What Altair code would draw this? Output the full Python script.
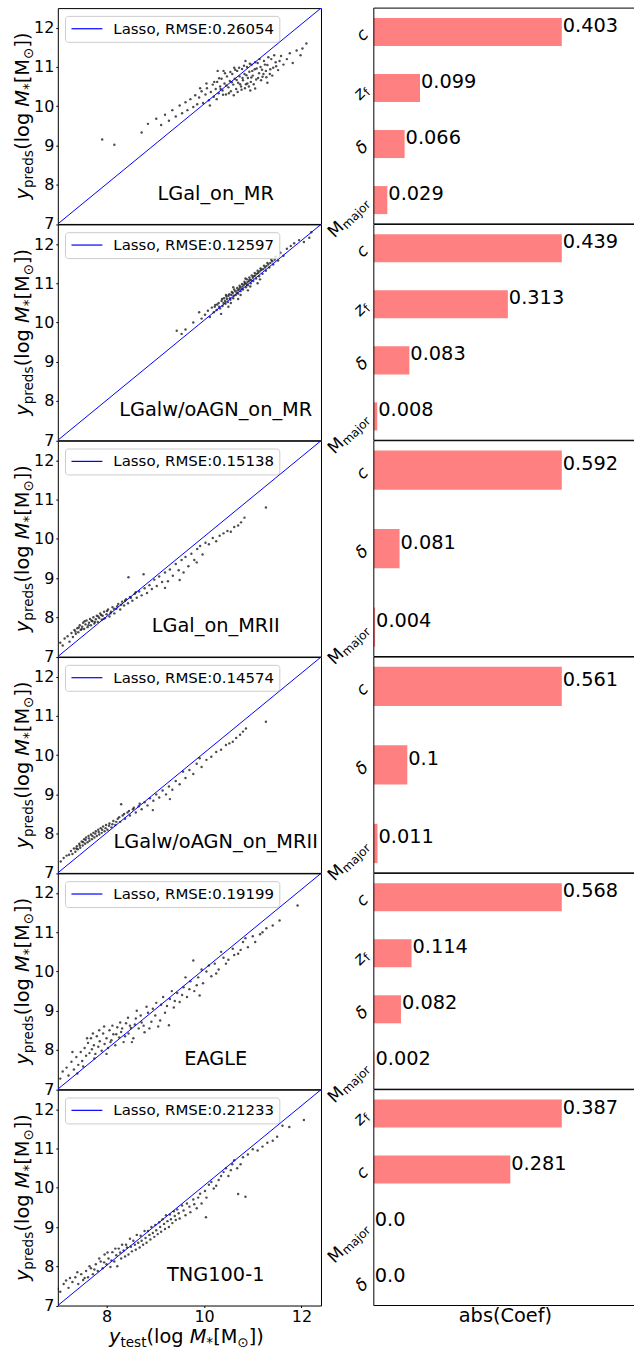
import altair as alt
import pandas as pd

FONT = "DejaVu Sans"

# Plot-area sizes (px)
W_L, W_R, H = 264, 261, 216.5

# ---------------------------------------------------------------- data
NAMES = ["LGal_on_MR", "LGalw/oAGN_on_MR", "LGal_on_MRII",
         "LGalw/oAGN_on_MRII", "EAGLE", "TNG100-1"]
RMSE = ["0.26054", "0.12597", "0.15138", "0.14574", "0.19199", "0.21233"]

X_DOMAIN = [7, 12.4]
Y_DOMAIN = [7, 12.5]
# one-to-one reference line, corner to corner of each panel
DIAG_X = [7, 12.4]
DIAG_Y = [7, 12.5]

# (y_test, y_preds) pairs for each simulation
PTS_LGAL_MR = [
    (7.91, 9.15), (8.16, 9.02), (8.72, 9.33), (8.85, 9.55), (9.02, 9.68), (9.12, 9.52),
    (9.2, 9.78), (9.28, 9.63), (9.35, 9.9), (9.42, 9.74), (9.5, 10.02), (9.55, 9.82),
    (9.62, 10.1), (9.66, 9.9), (9.72, 10.18), (9.78, 9.98), (9.82, 10.28), (9.86, 10.05),
    (9.9, 10.22), (9.95, 10.38), (9.98, 10.08), (10.03, 10.3), (10.06, 10.46), (10.1, 10.15),
    (10.14, 10.36), (10.18, 10.55), (10.2, 10.24), (10.24, 10.44), (10.27, 10.62), (10.3, 10.33),
    (10.33, 10.5), (10.36, 10.7), (10.38, 10.4), (10.42, 10.58), (10.45, 10.3), (10.47, 10.76),
    (10.5, 10.48), (10.53, 10.64), (10.55, 10.38), (10.58, 10.82), (10.6, 10.55), (10.63, 10.7),
    (10.66, 10.44), (10.68, 10.9), (10.7, 10.6), (10.73, 10.76), (10.76, 10.5), (10.78, 10.95),
    (10.8, 10.66), (10.83, 10.82), (10.86, 10.56), (10.88, 11.0), (10.9, 10.72), (10.93, 10.88),
    (10.96, 10.62), (10.98, 11.06), (11.0, 10.78), (11.04, 10.94), (11.07, 10.68), (11.1, 11.1),
    (11.13, 10.84), (11.16, 11.0), (11.2, 10.75), (11.23, 11.15), (11.27, 10.9), (11.3, 11.05),
    (11.35, 10.82), (11.38, 11.2), (11.42, 10.98), (11.47, 11.12), (11.52, 10.92), (11.58, 11.28),
    (11.63, 11.06), (11.7, 11.2), (11.76, 11.35), (11.82, 11.1), (11.9, 11.42), (11.98, 11.3),
    (12.1, 11.6), (12.02, 11.47), (10.4, 10.9), (10.62, 10.98), (11.3, 10.6), (10.95, 10.4),
    (10.21, 10.62), (10.26, 10.18), (10.31, 10.71), (10.34, 10.44), (10.39, 10.29), (10.43, 10.84),
    (10.46, 10.53), (10.51, 10.33), (10.54, 10.87), (10.57, 10.61), (10.61, 10.28), (10.64, 10.93),
    (10.67, 10.67), (10.69, 10.36), (10.72, 10.98), (10.74, 10.56), (10.77, 10.42), (10.79, 10.72),
    (10.82, 11.03), (10.84, 10.46), (10.87, 10.79), (10.89, 10.58), (10.92, 10.5), (10.94, 11.08),
    (10.97, 10.73), (10.99, 10.9), (11.02, 10.56), (11.05, 11.12), (11.08, 10.96), (11.11, 10.72),
    (11.14, 11.2), (11.17, 10.66), (11.19, 10.93), (11.22, 10.82), (11.25, 11.06), (11.28, 10.74),
    (11.32, 11.25), (11.36, 10.94), (11.4, 10.78), (11.44, 11.3), (11.48, 11.02), (11.55, 11.15),
    (10.05, 10.58), (9.92, 10.46), (10.12, 10.02), (10.28, 10.9), (10.85, 11.15), (11.05, 10.45),
]
PTS_LGALWO_MR = [
    (9.44, 9.79), (9.54, 9.71), (9.62, 9.82), (9.78, 10.0), (9.9, 10.26), (9.95, 10.1),
    (10.02, 10.2), (10.08, 10.3), (10.12, 10.14), (10.16, 10.38), (10.2, 10.26), (10.23, 10.45),
    (10.26, 10.32), (10.3, 10.5), (10.33, 10.36), (10.36, 10.55), (10.38, 10.42), (10.41, 10.62),
    (10.44, 10.48), (10.46, 10.66), (10.49, 10.52), (10.52, 10.72), (10.54, 10.58), (10.57, 10.78),
    (10.6, 10.62), (10.62, 10.84), (10.65, 10.7), (10.68, 10.88), (10.7, 10.74), (10.73, 10.94),
    (10.75, 10.8), (10.78, 10.98), (10.8, 10.84), (10.83, 11.04), (10.86, 10.9), (10.88, 11.1),
    (10.9, 10.95), (10.93, 11.15), (10.96, 11.0), (10.98, 11.2), (11.01, 11.06), (11.04, 11.26),
    (11.07, 11.12), (11.1, 11.32), (11.13, 11.18), (11.16, 11.38), (11.2, 11.24), (11.23, 11.45),
    (11.27, 11.32), (11.3, 11.52), (11.34, 11.4), (11.38, 11.6), (11.42, 11.48), (11.47, 11.68),
    (11.52, 11.58), (11.57, 11.78), (11.63, 11.7), (11.7, 11.88), (11.78, 11.95), (11.85, 12.02),
    (11.95, 12.1), (12.05, 12.05), (12.16, 12.16), (12.2, 12.3), (10.5, 10.4), (10.7, 10.6),
    (10.9, 10.82), (11.1, 11.0), (10.35, 10.22), (10.6, 10.9),
    (10.22, 10.4), (10.27, 10.46), (10.31, 10.4), (10.37, 10.6), (10.4, 10.5), (10.43, 10.55),
    (10.47, 10.6), (10.5, 10.68), (10.53, 10.62), (10.56, 10.7), (10.59, 10.75), (10.61, 10.68),
    (10.64, 10.8), (10.67, 10.76), (10.69, 10.82), (10.72, 10.85), (10.74, 10.9), (10.77, 10.86),
    (10.79, 10.92), (10.82, 10.96), (10.84, 11.0), (10.87, 10.98), (10.89, 11.03), (10.92, 11.06),
    (10.94, 11.1), (10.97, 11.08), (11.0, 11.14), (11.02, 11.18), (11.05, 11.2), (11.08, 11.24),
    (11.11, 11.26), (11.14, 11.3), (11.17, 11.34), (11.21, 11.36), (11.25, 11.4), (11.28, 11.44),
    (11.32, 11.48), (11.36, 11.52), (11.4, 11.56), (11.45, 11.6), (10.55, 10.5), (10.75, 10.7),
    (10.95, 10.92), (11.15, 11.1), (10.45, 10.7), (10.85, 11.12),
]
PTS_LGAL_MRII = [
    (7.05, 7.35), (7.1, 7.28), (7.14, 7.46), (7.2, 7.52), (7.24, 7.38), (7.28, 7.6),
    (7.31, 7.5), (7.34, 7.68), (7.37, 7.58), (7.4, 7.72), (7.42, 7.62), (7.45, 7.8),
    (7.47, 7.68), (7.5, 7.76), (7.52, 7.86), (7.54, 7.7), (7.57, 7.82), (7.59, 7.92),
    (7.61, 7.75), (7.64, 7.86), (7.66, 7.96), (7.68, 7.8), (7.71, 7.9), (7.73, 8.0),
    (7.75, 7.84), (7.78, 7.95), (7.8, 8.04), (7.82, 7.88), (7.85, 7.98), (7.87, 8.1),
    (7.9, 7.94), (7.92, 8.04), (7.95, 8.14), (7.97, 7.98), (8.0, 8.08), (8.03, 8.2),
    (8.06, 8.02), (8.09, 8.14), (8.12, 8.26), (8.16, 8.1), (8.2, 8.22), (8.24, 8.34),
    (8.28, 8.2), (8.32, 8.4), (8.36, 8.3), (8.4, 8.46), (8.44, 8.36), (8.45, 9.02),
    (8.48, 8.52), (8.53, 8.42), (8.58, 8.6), (8.62, 8.5), (8.67, 8.66), (8.72, 8.56),
    (8.76, 9.1), (8.78, 8.74), (8.83, 8.62), (8.88, 8.82), (8.93, 8.72), (8.98, 8.96),
    (9.03, 8.8), (9.08, 9.04), (9.14, 8.9), (9.2, 9.14), (9.26, 8.92), (9.3, 9.22),
    (9.36, 9.06), (9.42, 9.36), (9.48, 9.2), (9.54, 9.46), (9.58, 9.14), (9.62, 9.54),
    (9.68, 9.3), (9.74, 9.62), (9.8, 9.46), (9.86, 9.74), (9.92, 9.82), (9.97, 9.6),
    (10.03, 9.9), (10.1, 9.86), (10.18, 10.02), (10.25, 9.94), (10.32, 10.08), (10.4, 10.14),
    (10.48, 10.2), (10.55, 10.18), (10.62, 10.3), (10.7, 10.34), (10.76, 10.42), (10.83, 10.54),
    (11.27, 10.8), (9.85, 9.4), (9.2, 8.75), (9.5, 8.95),
    (7.36, 7.64), (7.43, 7.74), (7.49, 7.7), (7.55, 7.9), (7.63, 7.8), (7.69, 7.92),
    (7.76, 7.88), (7.83, 8.02), (7.89, 8.06), (7.94, 7.96), (8.01, 8.16), (8.08, 8.1),
    (8.15, 8.22), (8.22, 8.28), (8.3, 8.32), (8.38, 8.42), (8.5, 8.5), (8.6, 8.64),
]
PTS_LGALWO_MRII = [
    (7.06, 7.29), (7.12, 7.38), (7.18, 7.44), (7.23, 7.46), (7.27, 7.56), (7.3, 7.48),
    (7.33, 7.62), (7.36, 7.54), (7.39, 7.68), (7.41, 7.6), (7.44, 7.74), (7.46, 7.64),
    (7.49, 7.8), (7.51, 7.7), (7.54, 7.86), (7.56, 7.74), (7.58, 7.9), (7.61, 7.78),
    (7.63, 7.94), (7.65, 7.82), (7.68, 7.98), (7.7, 7.86), (7.73, 8.02), (7.75, 7.9),
    (7.78, 8.06), (7.8, 7.94), (7.83, 8.1), (7.85, 7.98), (7.88, 8.14), (7.9, 8.02),
    (7.93, 8.18), (7.96, 8.06), (7.99, 8.22), (8.02, 8.1), (8.06, 8.26), (8.1, 8.16),
    (8.14, 8.32), (8.18, 8.22), (8.23, 8.38), (8.28, 8.3), (8.3, 8.75), (8.33, 8.46),
    (8.38, 8.38), (8.43, 8.54), (8.48, 8.46), (8.54, 8.62), (8.6, 8.54), (8.66, 8.7),
    (8.72, 8.62), (8.78, 8.8), (8.84, 8.72), (8.89, 8.9), (8.95, 8.6), (8.96, 8.84),
    (9.02, 9.0), (9.08, 8.92), (9.15, 9.1), (9.22, 9.0), (9.28, 9.2), (9.3, 8.88),
    (9.35, 9.12), (9.42, 9.34), (9.5, 9.26), (9.57, 9.58), (9.62, 9.42), (9.7, 9.62),
    (9.78, 9.52), (9.85, 9.78), (9.91, 9.92), (9.95, 9.7), (10.05, 9.88), (10.15, 9.96),
    (10.25, 10.08), (10.35, 10.14), (10.45, 10.26), (10.52, 10.3), (10.59, 10.34), (10.66, 10.44),
    (10.74, 10.52), (10.8, 10.6), (10.86, 10.68), (11.27, 10.85),
    (7.38, 7.62), (7.45, 7.7), (7.52, 7.78), (7.57, 7.84), (7.64, 7.88), (7.71, 7.94),
    (7.77, 8.0), (7.84, 8.04), (7.91, 8.1), (7.98, 8.14), (8.05, 8.2), (8.12, 8.24),
    (8.2, 8.3), (8.26, 8.42), (8.36, 8.5), (8.46, 8.58), (8.56, 8.66), (8.68, 8.76),
]
PTS_EAGLE = [
    (7.05, 7.27), (7.1, 7.45), (7.18, 7.55), (7.22, 7.35), (7.28, 7.7), (7.33, 7.5),
    (7.38, 7.82), (7.42, 7.62), (7.47, 7.95), (7.5, 7.72), (7.55, 8.05), (7.58, 7.85),
    (7.62, 8.18), (7.65, 7.92), (7.68, 8.3), (7.7, 8.02), (7.74, 8.12), (7.77, 7.9),
    (7.8, 8.35), (7.83, 8.08), (7.86, 8.22), (7.9, 7.98), (7.93, 8.42), (7.96, 8.15),
    (8.0, 8.3), (8.03, 8.05), (8.06, 8.5), (8.1, 8.25), (8.14, 8.4), (8.18, 8.12),
    (8.22, 8.58), (8.26, 8.32), (8.3, 8.46), (8.35, 8.2), (8.4, 8.68), (8.45, 8.42),
    (8.5, 8.56), (8.55, 8.3), (8.6, 8.8), (8.66, 8.55), (8.72, 8.7), (8.78, 8.45),
    (8.85, 8.95), (8.92, 8.72), (9.0, 8.88), (9.06, 8.6), (9.12, 9.15), (9.2, 8.95),
    (9.28, 8.63), (9.3, 9.3), (9.38, 9.08), (9.45, 9.45), (9.5, 9.22), (9.58, 9.6),
    (9.65, 9.35), (9.72, 9.75), (9.78, 10.28), (9.8, 9.5), (9.88, 9.85), (9.91, 9.39),
    (9.98, 9.7), (10.05, 10.0), (10.15, 9.88), (10.22, 10.2), (10.3, 10.05), (10.4, 10.35),
    (10.5, 10.3), (10.59, 10.58), (10.7, 10.45), (10.8, 10.75), (10.9, 10.62), (11.0, 10.9),
    (11.15, 10.95), (11.28, 11.1), (11.41, 11.17), (11.55, 11.3), (11.92, 11.68),
    (7.6, 8.3), (7.72, 8.42), (7.85, 8.5), (7.95, 8.6), (8.08, 8.2), (8.12, 8.62),
    (8.2, 8.4), (8.28, 8.7), (8.32, 8.55), (8.38, 8.35), (8.44, 8.82), (8.48, 8.62),
    (8.52, 8.2), (8.58, 8.65), (8.62, 9.0), (8.7, 8.88), (8.76, 8.62), (8.82, 9.1),
    (8.88, 8.55), (8.95, 9.05), (9.02, 9.2), (9.1, 8.75), (9.16, 9.35), (9.24, 9.12),
    (9.34, 9.5), (9.4, 9.25), (9.55, 9.4), (9.62, 9.85), (9.7, 9.55), (9.85, 9.65),
    (9.95, 10.05), (10.1, 10.15), (10.25, 9.95), (10.35, 10.5), (10.45, 10.2), (10.62, 10.42),
    (10.75, 10.55), (10.85, 10.85), (11.05, 10.75), (11.2, 11.0), (7.4, 7.4), (7.52, 7.58),
    (7.75, 7.78), (8.0, 7.9), (7.3, 7.95),
]
PTS_TNG = [
    (7.0, 7.43), (7.05, 7.35), (7.12, 7.55), (7.17, 7.64), (7.22, 7.45), (7.3, 7.6),
    (7.36, 7.72), (7.42, 7.55), (7.48, 7.8), (7.52, 7.65), (7.58, 7.88), (7.62, 7.72),
    (7.68, 7.95), (7.72, 7.8), (7.78, 8.05), (7.82, 7.88), (7.88, 8.12), (7.92, 7.95),
    (7.96, 8.3), (8.0, 8.05), (8.04, 8.2), (8.08, 7.98), (8.12, 8.36), (8.16, 8.12),
    (8.2, 8.28), (8.25, 8.45), (8.3, 8.2), (8.35, 8.4), (8.4, 8.55), (8.45, 8.3),
    (8.5, 8.5), (8.55, 8.65), (8.6, 8.42), (8.65, 8.6), (8.7, 8.78), (8.75, 8.55),
    (8.8, 8.72), (8.85, 8.9), (8.9, 8.68), (8.95, 8.85), (9.0, 9.05), (9.05, 8.82),
    (9.1, 9.0), (9.15, 9.2), (9.2, 8.95), (9.25, 9.15), (9.3, 9.32), (9.35, 9.1),
    (9.4, 9.28), (9.45, 9.45), (9.5, 9.22), (9.58, 9.42), (9.65, 9.6), (9.72, 9.38),
    (9.8, 9.58), (9.88, 9.75), (9.95, 9.6), (10.04, 9.25), (10.02, 9.92), (10.1, 10.08),
    (10.2, 9.98), (10.3, 10.2), (10.4, 10.4), (10.5, 10.3), (10.58, 10.6), (10.7, 9.84),
    (10.68, 10.5), (10.85, 9.77), (10.8, 10.78), (11.0, 10.98), (11.2, 11.05), (11.41, 11.2),
    (11.61, 11.58), (12.05, 11.73),
    (7.25, 7.7), (7.4, 7.85), (7.55, 7.7), (7.65, 8.0), (7.75, 7.92), (7.85, 8.2),
    (7.95, 8.1), (8.02, 8.35), (8.1, 8.15), (8.18, 8.45), (8.22, 8.0), (8.28, 8.35),
    (8.32, 8.55), (8.38, 8.25), (8.42, 8.48), (8.48, 8.7), (8.52, 8.38), (8.58, 8.55),
    (8.62, 8.8), (8.68, 8.48), (8.72, 8.65), (8.78, 8.9), (8.82, 8.6), (8.88, 8.8),
    (8.92, 9.0), (8.98, 8.75), (9.02, 8.92), (9.08, 9.12), (9.12, 8.88), (9.18, 9.08),
    (9.22, 9.3), (9.28, 9.0), (9.32, 9.2), (9.38, 9.4), (9.42, 9.18), (9.48, 9.35),
    (9.55, 9.55), (9.62, 9.3), (9.7, 9.52), (9.78, 9.7), (9.85, 9.48), (9.92, 9.85),
    (10.05, 9.75), (10.15, 10.15), (10.25, 10.05), (10.35, 10.3), (10.45, 10.5), (10.55, 10.45),
    (10.62, 10.7), (10.75, 10.6), (10.9, 10.85), (11.1, 10.95), (11.3, 11.15), (11.5, 11.3),
    (11.75, 11.55),
]
POINTS = [PTS_LGAL_MR, PTS_LGALWO_MR, PTS_LGAL_MRII,
          PTS_LGALWO_MRII, PTS_EAGLE, PTS_TNG]

# Lasso |coefficients|, listed top to bottom
FEATURES = [
    ["c", "zf", "delta", "Mmajor"],
    ["c", "zf", "delta", "Mmajor"],
    ["c", "delta", "Mmajor"],
    ["c", "delta", "Mmajor"],
    ["c", "zf", "delta", "Mmajor"],
    ["zf", "c", "Mmajor", "delta"],
]
COEFS = [
    [0.403, 0.099, 0.066, 0.029],
    [0.439, 0.313, 0.083, 0.008],
    [0.592, 0.081, 0.004],
    [0.561, 0.1, 0.011],
    [0.568, 0.114, 0.082, 0.002],
    [0.387, 0.281, 0.0, 0.0],
]
# tick label: (main glyph, style, subscript)
FEATURE_LABELS = {
    "c": ("c", "italic", ""),
    "zf": ("z", "italic", "f"),
    "delta": ("δ", "italic", ""),
    "Mmajor": ("M", "normal", "major"),
}

# ---------------------------------------------------------------- text helpers
CHAR_W = {  # DejaVu Sans advance widths (em)
    " ": 0.318, "(": 0.390, ")": 0.390, "[": 0.390, "]": 0.390, "*": 0.500,
    "a": 0.613, "b": 0.635, "c": 0.550, "d": 0.635, "e": 0.615, "f": 0.352,
    "g": 0.635, "j": 0.278, "l": 0.278, "m": 0.974, "o": 0.612, "p": 0.635,
    "r": 0.411, "s": 0.521, "t": 0.392, "y": 0.592, "z": 0.525, "M": 0.863,
    "⊙": 0.838, "δ": 0.612,
}
ONE = pd.DataFrame({"k": [0]})
BIG, SUB, TICK, LEG = 19.4, 13.6, 16, 15
LBL, LBL_SUB = 17, 12


def text_width(s, size):
    return sum(CHAR_W.get(ch, 0.6) for ch in s) * size


def math_text(pieces, x0, y0, angle):
    """Centred run of text pieces (text, size, style, baseline shift)."""
    widths = [text_width(t, sz) for t, sz, _, _ in pieces]
    pos = -sum(widths) / 2
    out = []
    for (t, sz, style, shift), w in zip(pieces, widths):
        out.append(
            alt.Chart(ONE).mark_text(
                text=t, font=FONT, fontSize=sz, fontStyle=style, color="black",
                align="left", baseline="alphabetic", angle=angle, dx=pos, dy=shift,
            ).encode(x=alt.value(x0), y=alt.value(y0))
        )
        pos += w
    return out


def mass_label(sub):
    return [("y", BIG, "italic", 0), (sub, SUB, "normal", 4.5),
            ("(log ", BIG, "normal", 0), ("M", BIG, "italic", 0),
            ("*", SUB, "normal", 4.5), ("[M", BIG, "normal", 0),
            ("⊙", SUB, "normal", 4.5), ("])", BIG, "normal", 0)]


# ---------------------------------------------------------------- panels
def scatter_panel(i, last):
    df = pd.DataFrame(POINTS[i], columns=["x", "y"])
    xaxis = (alt.Axis(values=[8, 10, 12], title=None, tickSize=2, labelFontSize=TICK,
                      labelPadding=1, labelFlush=False, format="d")
             if last else None)
    yaxis = alt.Axis(values=[7, 8, 9, 10, 11, 12], title=None, tickSize=2,
                     labelFontSize=TICK, labelPadding=2, labelFlush=False,
                     labelOverlap=False, format="d")
    xs = alt.Scale(domain=X_DOMAIN, nice=False, zero=False)
    ys = alt.Scale(domain=Y_DOMAIN, nice=False, zero=False)

    pts = alt.Chart(df).mark_circle(size=6, color="black", opacity=0.7, clip=True).encode(
        x=alt.X("x:Q", scale=xs, axis=xaxis), y=alt.Y("y:Q", scale=ys, axis=yaxis))
    diag = alt.Chart(pd.DataFrame({"x": DIAG_X, "y": DIAG_Y})).mark_line(
        color="blue", strokeWidth=1, clip=True).encode(x="x:Q", y="y:Q")
    box = alt.Chart(ONE).mark_rect(
        cornerRadius=3, fill="white", fillOpacity=0.8, stroke="#cccccc", strokeWidth=1
    ).encode(x=alt.value(7.7), x2=alt.value(222.7), y=alt.value(8.3), y2=alt.value(34.3))
    key = alt.Chart(ONE).mark_rule(color="blue", strokeWidth=1.2).encode(
        x=alt.value(13.7), x2=alt.value(44.7), y=alt.value(20.7))
    key_txt = alt.Chart(ONE).mark_text(
        text=f"Lasso, RMSE:{RMSE[i]}", font=FONT, fontSize=LEG, color="black",
        align="left", baseline="alphabetic").encode(x=alt.value(55.7), y=alt.value(25.8))
    name = alt.Chart(ONE).mark_text(
        text=NAMES[i], font=FONT, fontSize=BIG, color="black",
        align="center", baseline="alphabetic").encode(x=alt.value(0.6 * W_L), y=alt.value(192))

    layers = [pts, diag, box, key, key_txt, name]
    layers += math_text(mass_label("preds"), -29.3, H / 2, 270)
    if last:
        layers += math_text(mass_label("test"), 129, 254, 0)
    return alt.layer(*layers).properties(width=W_L, height=H)


def bar_panel(i, last):
    feats, vals = FEATURES[i], COEFS[i]
    df = pd.DataFrame({"feat": feats, "val": vals, "label": [str(v) for v in vals]})
    n = len(feats)
    yscale = alt.Scale(domain=feats, paddingInner=0.5, paddingOuter=0.05 * (n - 0.5))
    xscale = alt.Scale(domain=[0, max(vals) * 1.4 * W_R / W_L], nice=False, zero=True)
    yenc = alt.Y("feat:N", scale=yscale, sort=None,
                 axis=alt.Axis(labels=False, title=None, domain=False, tickSize=2,
                               tickColor="black"))

    bars = alt.Chart(df).mark_bar(color="#ff8080").encode(
        x=alt.X("val:Q", scale=xscale, axis=None), y=yenc)
    nums = alt.Chart(df).mark_text(
        font=FONT, fontSize=BIG, color="black", align="left", baseline="alphabetic", dx=1
    ).encode(x=alt.X("val:Q", scale=xscale, axis=None), y=yenc, text="label:N")

    layers = [bars, nums]
    # rotated tick labels with subscripts
    for f in feats:
        main, style, sub = FEATURE_LABELS[f]
        fd = pd.DataFrame({"feat": [f]})
        ypos = alt.Y("feat:N", scale=yscale, sort=None, axis=None)
        sw = text_width(sub, LBL_SUB)
        layers.append(alt.Chart(fd).mark_text(
            text=main, font=FONT, fontSize=LBL, fontStyle=style, color="black",
            align="right", baseline="middle", angle=315, dx=-sw
        ).encode(x=alt.value(-8), y=ypos))
        if sub:
            layers.append(alt.Chart(fd).mark_text(
                text=sub, font=FONT, fontSize=LBL_SUB, color="black",
                align="right", baseline="middle", angle=315, dy=3.5
            ).encode(x=alt.value(-8), y=ypos))

    # frame: top, bottom and left spines
    layers.append(alt.Chart(ONE).mark_rule(color="black", strokeWidth=1).encode(
        x=alt.value(0), x2=alt.value(W_R), y=alt.value(0)))
    layers.append(alt.Chart(ONE).mark_rule(color="black", strokeWidth=1).encode(
        x=alt.value(0), x2=alt.value(W_R), y=alt.value(H)))
    layers.append(alt.Chart(ONE).mark_rule(color="black", strokeWidth=1).encode(
        x=alt.value(0), y=alt.value(0), y2=alt.value(H)))
    if last:
        layers.append(alt.Chart(ONE).mark_text(
            text="abs(Coef)", font=FONT, fontSize=BIG, color="black",
            align="center", baseline="alphabetic").encode(x=alt.value(132), y=alt.value(233)))
    return alt.layer(*layers).properties(
        width=W_R, height=H, view=alt.ViewBackground(stroke="transparent"))


panels = []
for i in range(6):
    last = i == 5
    panels.append(scatter_panel(i, last))
    panels.append(bar_panel(i, last))

chart = alt.concat(
    *panels, columns=2, bounds="flush", spacing={"row": 0, "column": 53}
).properties(
    padding={"left": 12, "top": 5, "right": 0, "bottom": 0}
).configure(font=FONT).configure_view(
    stroke="black", strokeWidth=1
).configure_axis(
    labelFont=FONT, labelColor="black", tickColor="black", grid=False, domain=False
)

chart.save("out.html", embed_options={"renderer": "svg", "actions": False})
